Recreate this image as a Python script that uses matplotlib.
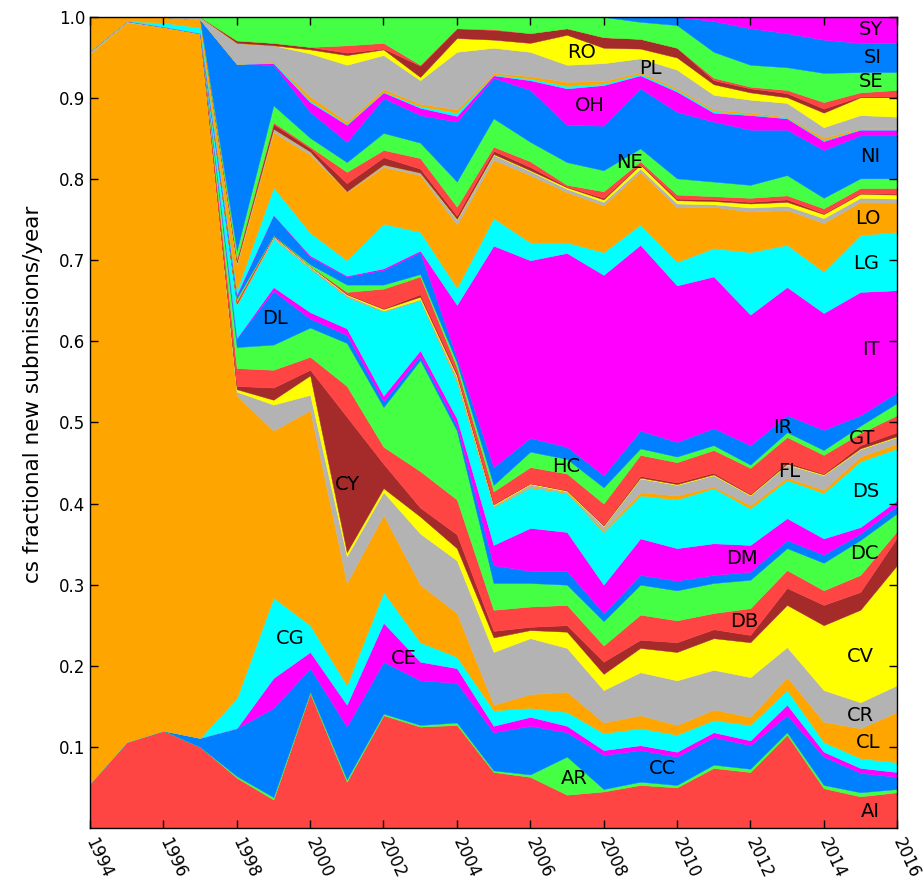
import numpy as np
import matplotlib
matplotlib.use('Agg')
import matplotlib.pyplot as plt

years = list(range(1994, 2017))

categories = ['AI', 'AR', 'CC', 'CE', 'CG', 'CL', 'CR', 'CV', 'CY', 'DB',
              'DC', 'DL', 'DM', 'DS', 'ET', 'FL', 'GL', 'GR', 'GT', 'HC',
              'IR', 'IT', 'LG', 'LO', 'MA', 'MM', 'MS', 'NA', 'NE', 'NI',
              'OH', 'OS', 'PF', 'PL', 'RO', 'SC', 'SD', 'SE', 'SI', 'SY']

# approximate share (per mille) of new submissions per year, 1994..2016
AI = [55, 106, 120, 100, 62, 35, 166, 57, 139, 125, 127, 69, 63, 41, 45, 53, 50, 74, 69, 115, 49, 39, 44]
AR = [0, 0, 0, 0, 2, 3, 2, 3, 2, 2, 3, 2, 3, 47, 3, 4, 3, 4, 4, 3, 4, 5, 4]
CC = [0, 0, 0, 11, 59, 110, 29, 65, 64, 55, 49, 47, 60, 30, 42, 39, 35, 34, 29, 21, 35, 24, 15]
CE = [0, 0, 0, 0, 0, 37, 20, 27, 48, 23, 18, 8, 11, 8, 6, 6, 6, 6, 6, 13, 6, 6, 6]
CG = [0, 0, 0, 0, 37, 99, 33, 24, 38, 24, 14, 19, 11, 17, 21, 21, 21, 15, 19, 18, 12, 12, 12]
CL = [900, 887, 868, 869, 373, 206, 265, 126, 95, 71, 54, 7, 17, 25, 13, 16, 12, 13, 10, 16, 25, 37, 62]
CR = [3, 2, 0, 0, 5, 32, 19, 33, 28, 63, 65, 65, 69, 54, 40, 53, 55, 49, 49, 37, 39, 32, 33]
CV = [0, 0, 0, 0, 3, 6, 24, 5, 5, 21, 15, 18, 10, 20, 20, 30, 35, 39, 43, 52, 80, 114, 148]
CY = [0, 0, 0, 0, 4, 15, 7, 167, 30, 11, 17, 8, 4, 8, 15, 10, 12, 11, 9, 21, 25, 22, 34]
DB = [0, 0, 0, 0, 22, 22, 16, 38, 21, 45, 43, 26, 25, 25, 20, 31, 27, 20, 33, 22, 18, 21, 8]
DC = [0, 0, 0, 0, 26, 31, 36, 53, 49, 137, 85, 33, 29, 25, 30, 37, 37, 37, 35, 27, 34, 43, 22]
DL = [0, 0, 0, 0, 11, 66, 11, 10, 7, 5, 6, 22, 15, 17, 10, 12, 12, 10, 10, 10, 10, 8, 9]
DM = [0, 0, 0, 0, 0, 5, 8, 8, 7, 7, 9, 25, 53, 48, 35, 45, 40, 39, 33, 27, 20, 8, 7]
DS = [0, 0, 0, 0, 41, 60, 54, 39, 104, 62, 45, 47, 50, 48, 65, 53, 60, 68, 45, 47, 56, 81, 64]
ET = [0, 0, 0, 0, 0, 0, 0, 0, 0, 0, 2, 1, 1, 1, 2, 4, 5, 2, 4, 3, 4, 6, 6]
FL = [0, 0, 0, 0, 2, 2, 2, 2, 1, 1, 4, 1, 3, 1, 5, 17, 13, 14, 12, 16, 18, 9, 8]
GL = [0, 0, 0, 0, 0, 1, 1, 1, 2, 3, 2, 1, 1, 1, 1, 1, 1, 1, 1, 1, 1, 1, 1]
GR = [0, 0, 0, 0, 0, 0, 0, 1, 1, 3, 3, 1, 0, 1, 1, 2, 2, 2, 1, 2, 1, 4, 5]
GT = [0, 0, 0, 0, 3, 1, 0, 2, 24, 22, 7, 15, 20, 20, 26, 26, 25, 28, 32, 31, 23, 15, 21]
HC = [0, 0, 0, 0, 3, 0, 2, 9, 5, 3, 6, 8, 19, 18, 20, 8, 7, 6, 4, 6, 6, 9, 15]
IR = [0, 0, 0, 0, 3, 25, 9, 10, 18, 27, 6, 22, 17, 15, 15, 22, 18, 21, 24, 21, 25, 13, 13]
IT = [0, 0, 0, 0, 2, 0, 2, 1, 2, 2, 65, 273, 219, 239, 247, 229, 193, 187, 161, 158, 144, 152, 126]
LG = [0, 0, 5, 7, 5, 34, 28, 19, 55, 23, 21, 34, 22, 13, 28, 25, 29, 35, 77, 52, 51, 70, 72]
LO = [42, 5, 7, 10, 30, 68, 96, 84, 70, 70, 78, 72, 83, 62, 58, 65, 67, 51, 50, 43, 60, 41, 36]
MA = [0, 0, 0, 0, 3, 4, 4, 1, 3, 3, 6, 6, 5, 4, 4, 4, 5, 3, 5, 5, 6, 5, 5]
MM = [0, 0, 0, 0, 1, 0, 0, 0, 0, 0, 1, 1, 1, 2, 3, 5, 4, 4, 5, 5, 5, 5, 5]
MS = [0, 0, 0, 0, 3, 6, 4, 10, 9, 5, 4, 4, 4, 1, 2, 1, 2, 2, 2, 3, 1, 1, 1]
NA = [0, 0, 0, 0, 2, 2, 2, 14, 9, 13, 11, 5, 7, 2, 8, 3, 5, 4, 5, 5, 6, 6, 7]
NE = [0, 0, 0, 0, 10, 21, 11, 12, 21, 19, 31, 35, 24, 28, 26, 16, 20, 18, 16, 25, 13, 12, 12]
NI = [0, 0, 0, 0, 230, 50, 32, 25, 43, 34, 74, 50, 64, 46, 55, 74, 82, 74, 68, 56, 59, 53, 53]
OH = [0, 0, 0, 0, 0, 2, 12, 21, 7, 9, 7, 3, 12, 45, 50, 16, 25, 11, 18, 14, 11, 7, 7]
OS = [0, 0, 0, 0, 0, 2, 2, 1, 1, 2, 4, 1, 2, 3, 2, 2, 2, 2, 1, 1, 1, 1, 1]
PF = [0, 0, 0, 0, 0, 0, 5, 3, 3, 3, 4, 2, 3, 5, 3, 2, 2, 2, 2, 1, 3, 1, 1]
PL = [0, 0, 0, 3, 26, 20, 53, 70, 42, 29, 71, 31, 30, 21, 22, 17, 23, 18, 16, 17, 13, 16, 14]
RO = [0, 0, 0, 0, 0, 0, 5, 12, 7, 4, 17, 10, 11, 37, 19, 12, 15, 13, 9, 7, 18, 22, 24]
SC = [0, 0, 0, 0, 3, 3, 3, 3, 1, 14, 12, 12, 12, 8, 13, 12, 12, 5, 5, 5, 5, 1, 1]
SD = [0, 0, 0, 0, 0, 0, 0, 9, 7, 1, 0, 1, 0, 0, 0, 0, 0, 3, 2, 4, 8, 5, 8]
SE = [0, 0, 0, 0, 29, 32, 37, 35, 32, 59, 14, 15, 20, 14, 25, 21, 28, 32, 27, 28, 36, 25, 22]
SI = [0, 0, 0, 0, 0, 0, 0, 0, 0, 0, 0, 0, 0, 0, 0, 6, 10, 38, 45, 42, 41, 36, 36]
SY = [0, 0, 0, 0, 0, 0, 0, 0, 0, 0, 0, 0, 0, 0, 0, 0, 0, 5, 14, 20, 28, 32, 32]

series = [AI, AR, CC, CE, CG, CL, CR, CV, CY, DB, DC, DL, DM, DS, ET, FL, GL, GR,
          GT, HC, IR, IT, LG, LO, MA, MM, MS, NA, NE, NI, OH, OS, PF, PL, RO, SC,
          SD, SE, SI, SY]

# x position (year) where each category label is written
label_x = {'SY': 2015.3, 'SI': 2015.35, 'SE': 2015.3, 'RO': 2007.4, 'PL': 2009.27,
           'OH': 2007.63, 'NE': 2008.72, 'NI': 2015.27, 'LO': 2015.2, 'LG': 2015.16,
           'IT': 2015.3, 'DL': 1999.04, 'IR': 2012.87, 'GT': 2015.05, 'HC': 2006.98,
           'FL': 2013.06, 'CY': 2001.03, 'DS': 2015.16, 'DC': 2015.1, 'DM': 2011.78,
           'DB': 2011.83, 'CV': 2014.99, 'CG': 1999.45, 'CE': 2002.56, 'CR': 2014.99,
           'CL': 2015.2, 'AR': 2007.2, 'CC': 2009.62, 'AI': 2015.27}

palette = ['#ff4444', '#44ff44', '#0080ff', '#ff00ff', '#00ffff',
           '#ffa500', '#b3b3b3', '#ffff00', '#a52a2a']

data = np.array(series, dtype=float)
frac = data / data.sum(axis=0)
cum = np.cumsum(frac, axis=0)

fig = plt.figure(figsize=(9.24, 8.88), dpi=100)
ax = fig.add_axes([0.0974, 0.0676, 0.8734, 0.9133])
cols = [palette[i % len(palette)] for i in range(len(categories))]
polys = ax.stackplot(years, frac, colors=cols)
for p, c in zip(polys, cols):
    p.set_edgecolor(c)
    p.set_linewidth(0.3)

for cat, lx in label_x.items():
    i = categories.index(cat)
    top = np.interp(lx, years, cum[i])
    bot = np.interp(lx, years, cum[i - 1]) if i > 0 else 0.0
    ax.text(lx, (top + bot) / 2, cat, ha='center', va='center', fontsize=14,
            color='black')

ax.set_xlim(1994, 2016)
ax.set_ylim(0, 1)
xt = list(range(1994, 2017, 2))
ax.set_xticks(xt)
ax.set_xticklabels([str(v) for v in xt], rotation=-65, ha='left', va='center',
                   rotation_mode='anchor', fontsize=12)
yt = [round(0.1 * k, 1) for k in range(1, 11)]
ax.set_yticks(yt)
ax.set_yticklabels(['%.1f' % v for v in yt], fontsize=12)
ax.tick_params(direction='in', length=6, top=True, right=True, width=1)
ax.tick_params(axis='x', pad=8)
ax.set_ylabel('cs fractional new submissions/year', fontsize=15.5)
ax.yaxis.set_label_coords(-0.058, 0.535)
for s in ax.spines.values():
    s.set_linewidth(1.0)

fig.savefig('out.png', dpi=100)
